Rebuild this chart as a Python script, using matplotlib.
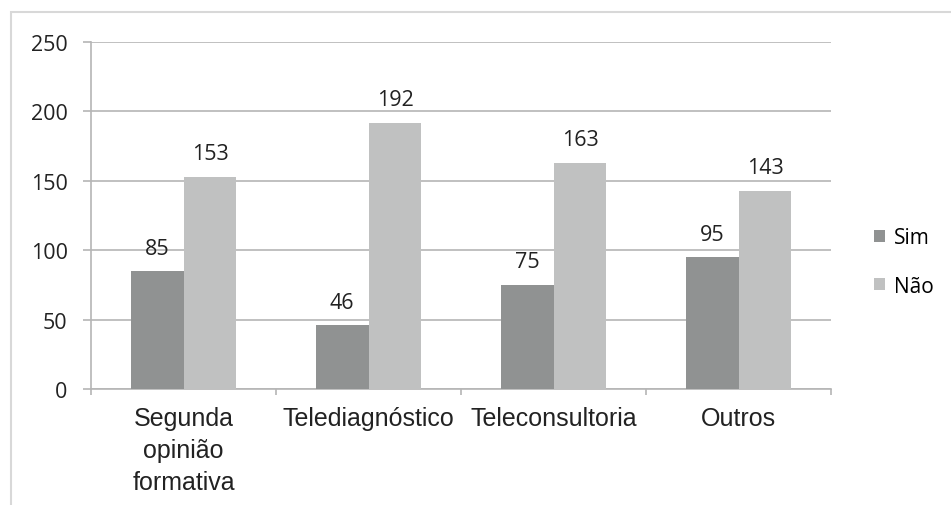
import matplotlib
matplotlib.use("Agg")
import matplotlib.pyplot as plt
import numpy as np
from matplotlib.patches import Rectangle

categories = ["Segunda\nopinião\nformativa", "Telediagnóstico", "Teleconsultoria", "Outros"]
sim = [85, 46, 75, 95]
nao = [153, 192, 163, 143]
series_names = ["Sim", "Não"]
yticks = [0, 50, 100, 150, 200, 250]

W, H = 951, 506
fig = plt.figure(figsize=(W/100, H/100), dpi=100)
ax = fig.add_axes([91/W, 1-390/H, (831-91)/W, (390-43)/H])

x = np.arange(len(categories))
bw = 0.286
c_sim = "#909292"
c_nao = "#c0c1c1"
b1 = ax.bar(x - bw/2, sim, bw, color=c_sim, label=series_names[0], zorder=3)
b2 = ax.bar(x + bw/2, nao, bw, color=c_nao, label=series_names[1], zorder=3)

num_font = dict(family=["Open Sans", "DejaVu Sans"], fontsize=15.5, color="#222222")
for bars, vals in ((b1, sim), (b2, nao)):
    for r, v in zip(bars, vals):
        ax.text(r.get_x() + r.get_width()/2, v + 9, str(v), ha="center", va="bottom", **num_font)

ax.set_xlim(-0.5, len(categories) - 0.5)
ax.set_ylim(0, 250)
ax.set_yticks(yticks)
ax.set_yticklabels([str(t) for t in yticks], **num_font)
ax.yaxis.grid(True, color="#b5b5b5", linewidth=1.2, zorder=0)
ax.tick_params(axis="y", length=5.8, color="#b5b5b5", width=1.2, pad=11)

ax.set_xticks(x)
ax.set_xticklabels(categories, family=["Liberation Sans"], fontsize=18, color="#222222", linespacing=1.42)
ax.tick_params(axis="x", length=0, pad=12)
ax.set_xticks(np.arange(len(categories) + 1) - 0.5, minor=True)
ax.tick_params(axis="x", which="minor", length=4.3, color="#b5b5b5", width=1.2, direction="out")

for s in ["top", "right"]:
    ax.spines[s].set_visible(False)
for s in ["left", "bottom"]:
    ax.spines[s].set_color("#b5b5b5")
    ax.spines[s].set_linewidth(1.2)

leg = fig.legend(handles=[b1, b2], labels=series_names, loc="center left",
                 bbox_to_anchor=(855/W, 1-263/H), frameon=False,
                 prop=dict(family=["Open Sans", "DejaVu Sans"], size=15),
                 handlelength=0.55, handleheight=0.55, handletextpad=0.4, labelspacing=1.3)

fig.patches.append(Rectangle((11/W, -0.1), 1.2, 1 - 13/H + 0.1, transform=fig.transFigure,
                             fill=False, edgecolor="#d8d8d8", linewidth=1.5))

fig.savefig("out.png", dpi=100)
